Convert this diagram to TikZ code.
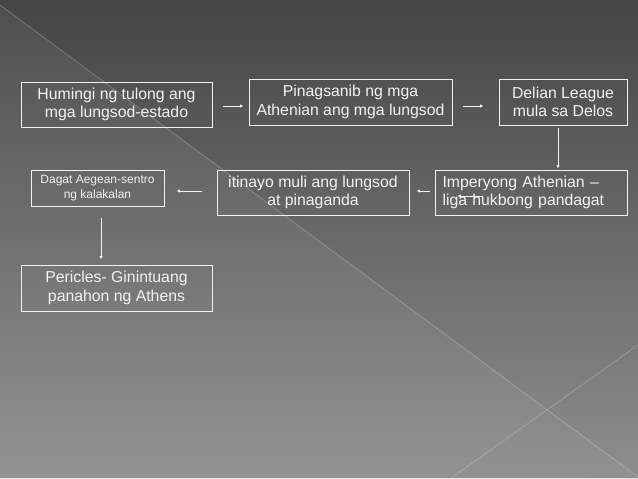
\documentclass[tikz,border=0pt]{standalone}
\usepackage{fontspec}
\setmainfont{Liberation Sans}
\usetikzlibrary{arrows.meta}
\definecolor{bgtop}{HTML}{454545}
\definecolor{bgmid}{HTML}{5B5B5B}
\definecolor{bgbottom}{HTML}{8E8E8E}
\definecolor{ink}{HTML}{F2F2F2}

\begin{document}
\begin{tikzpicture}[x=1pt,y=-1pt,
    box/.style={draw=ink, line width=0.9pt, text=ink, align=center,
      inner sep=0pt, font=\fontsize{15.8}{18.6}\selectfont},
    smallbox/.style={box, font=\fontsize{12}{14.6}\selectfont},
    link/.style={draw=ink, line width=0.8pt, -{Latex[length=3.5pt,width=3.5pt]}}]
    % background
    \useasboundingbox (0,0) rectangle (638,479);
    \shade [top color=bgtop, middle color=bgmid, bottom color=bgbottom] (0,0) rectangle (638,479);
    \fill [white, opacity=.05] (0,5) -- (546,409) -- (450,479) -- (0,479) -- cycle;
    \fill [white, opacity=.04] (450,479) -- (546,409) -- (638,477) -- cycle;
    \draw [white, opacity=.22, line width=.8pt] (0,5) -- (638,477);
    \draw [white, opacity=.22, line width=.8pt] (450,479) -- (638,345);
    \draw [white!80!gray, line width=1.2pt] (0,478.4) -- (638,478.4);

    % boxes
    \node [box, minimum width=191pt, minimum height=45pt] (tulong) at (116.5,104.5)
      {Humingi ng tulong ang\\mga lungsod-estado};
    \node [box, minimum width=203pt, minimum height=46pt] (pinagsanib) at (350.5,102)
      {Pinagsanib ng mga\\Athenian ang mga lungsod};
    \node [box, minimum width=128pt, minimum height=46pt] (delian) at (563,102)
      {Delian League\\mula sa Delos};
    \node [box, minimum width=192pt, minimum height=45pt, text width=177pt, align=left] (imperyo) at (531,192.5)
      {Imperyong Athenian –\\liga hukbong pandagat};
    \node [box, minimum width=192pt, minimum height=45pt] (itinayo) at (313,192.5)
      {itinayo muli ang lungsod\\at pinaganda};
    \node [smallbox, minimum width=133pt, minimum height=36pt] (aegean) at (97.5,188)
      {Dagat Aegean-sentro\\ng kalakalan};
    \node [box, minimum width=191pt, minimum height=46pt] (pericles) at (116.5,288)
      {Pericles- Ginintuang\\panahon ng Athens};

    % arrows
    \draw [link, shorten <=11pt, shorten >=5pt] ([yshift=-1.5pt]tulong.east) -- ([yshift=-1.5pt]tulong.east -| pinagsanib.west);
    \draw [link, shorten <=11pt, shorten >=15pt] ([yshift=-4pt]pinagsanib.east) -- ([yshift=-4pt]pinagsanib.east -| delian.west);
    \draw [link, shorten <=3pt, shorten >=1pt] ([xshift=-5pt]delian.south) -- ([xshift=-5pt]delian.south |- imperyo.north);
    \draw [link, shorten <=5pt, shorten >=7pt] ([yshift=1.5pt]imperyo.west) -- ([yshift=1.5pt]imperyo.west -| itinayo.east);
    \draw [link, shorten <=15pt, shorten >=12pt] ([yshift=1.5pt]itinayo.west) -- ([yshift=1.5pt]itinayo.west -| aegean.east);
    \draw [link, shorten <=12pt, shorten >=5pt] ([xshift=3.5pt]aegean.south) -- ([xshift=3.5pt]aegean.south |- pericles.north);
    \draw [link] ([shift={(48,3.5)}]imperyo.west) -- ([shift={(23,3.5)}]imperyo.west);
\end{tikzpicture}
\end{document}
